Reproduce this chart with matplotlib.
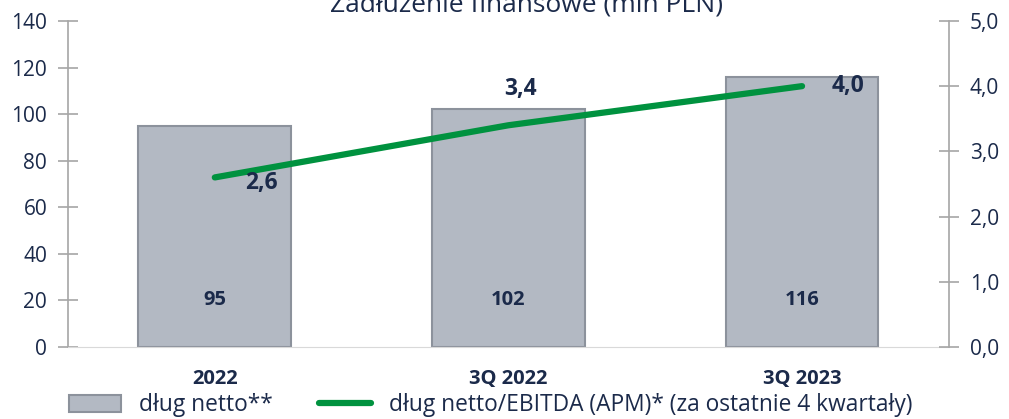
import numpy as np
import matplotlib.pyplot as plt
from matplotlib.lines import Line2D
from matplotlib.patches import Patch

categories = ['2022', '3Q 2022', '3Q 2023']
debt = [95, 102, 116]
ratio = [2.6, 3.4, 4.0]
ratio_labels = ['2,6', '3,4', '4,0']

plt.rcParams['font.family'] = ['Open Sans', 'DejaVu Sans']
navy = '#1B2A4A'
grey = '#A6A6A6'


def create_plot():
    fig = plt.figure(figsize=(10.09, 4.19), dpi=100)
    ax = fig.add_axes([0.0674, 0.172, 0.873, 0.778])
    ax2 = ax.twinx()

    x = np.arange(len(categories))
    width = 0.52

    ax.bar(x, debt, width, color='#B3B9C3', edgecolor='#8C929C', linewidth=1.5, zorder=2)
    for xi, v in zip(x, debt):
        ax.text(xi, 20, str(v), ha='center', va='center', fontsize=14.5,
                fontweight='bold', color=navy, zorder=4)

    ax2.plot(x, ratio, color='#00923F', linewidth=4.5, solid_capstyle='round', zorder=3)
    # label offsets relative to each point (data units)
    offsets = [(0.16, -0.09, 'center'), (0.04, 0.55, 'center'), (0.1, 0.0, 'left')]
    for xi, v, lab, (dx, dy, ha) in zip(x, ratio, ratio_labels, offsets):
        ax2.text(xi + dx, v + dy, lab, ha=ha, va='center', fontsize=16.5,
                 fontweight='bold', color=navy)

    ax.set_xlim(-0.5, 2.5)
    ax.set_ylim(0, 140)
    ax.set_yticks(range(0, 141, 20))
    ax2.set_ylim(0, 5)
    ax2.set_yticks(np.arange(0, 5.1, 1))
    ax2.set_yticklabels([f'{t:.1f}'.replace('.', ',') for t in np.arange(0, 5.1, 1)])

    ax.set_xticks(x)
    ax.set_xticklabels(categories, fontsize=14.5, fontweight='bold', color=navy)
    ax.tick_params(axis='x', length=0, pad=16)

    for a, side in ((ax, 'left'), (ax2, 'right')):
        for s in a.spines.values():
            s.set_visible(False)
        a.spines[side].set_visible(True)
        a.spines[side].set_color(grey)
        a.spines[side].set_linewidth(1.2)
    ax.spines['bottom'].set_visible(True)
    ax.spines['bottom'].set_color('#D9D9D9')
    ax.tick_params(axis='y', direction='inout', length=14, color=grey, width=1.2,
                   labelsize=15, labelcolor=navy, pad=8)
    ax2.tick_params(axis='y', direction='inout', length=14, color=grey, width=1.2,
                    labelsize=15, labelcolor=navy, pad=8)

    fig.text(0.522, 0.988, 'Zadłużenie finansowe (mln PLN)', ha='center', va='center',
             fontsize=19, color=navy)

    handles = [Patch(facecolor='#B3B9C3', edgecolor='#8C929C', linewidth=1.5),
               Line2D([0], [0], color='#00923F', linewidth=4.5, solid_capstyle='round')]
    labels = ['dług netto**', 'dług netto/EBITDA (APM)* (za ostatnie 4 kwartały)']
    fig.legend(handles, labels, loc='center left', bbox_to_anchor=(0.068, 0.033),
               ncol=2, frameon=False, fontsize=16.4, handlelength=2.3, handleheight=0.8,
               columnspacing=2.0, handletextpad=0.8, labelcolor=navy,
               borderaxespad=0, borderpad=0)

    fig.savefig('out.png', dpi=100)


if __name__ == '__main__':
    create_plot()
